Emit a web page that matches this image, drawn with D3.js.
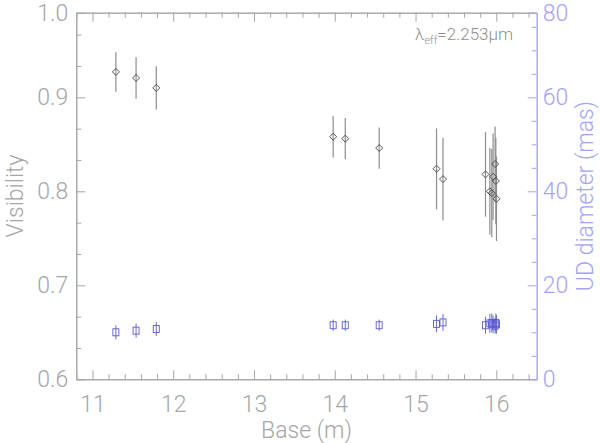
<!DOCTYPE html>
<html>
<head>
<meta charset="utf-8">
<script src="https://cdn.jsdelivr.net/npm/d3@7"></script>
<style>
  body { margin: 0; background: #fff; }
  svg text { font-family: Roboto, "Liberation Sans", sans-serif; font-weight: 300; }
</style>
</head>
<body>
<svg id="chart" width="600" height="443"></svg>
<script>
'use strict';
// Baselines (m), visibilities and uniform-disk diameters
const base = [11.29, 11.54, 11.79, 13.98, 14.13, 14.55, 15.26, 15.34,
    15.866, 15.92, 15.944, 15.96, 15.985, 15.994, 16.002];
const vis = [0.927, 0.9205, 0.910, 0.858, 0.856, 0.846, 0.824, 0.813,
    0.818, 0.800, 0.798, 0.8155, 0.829, 0.811, 0.792];
const visErr = [0.021, 0.022, 0.023, 0.022, 0.022, 0.022, 0.043, 0.044,
    0.045, 0.046, 0.047, 0.046, 0.040, 0.046, 0.045];
const ud = [10.0, 10.35, 10.7, 11.5, 11.5, 11.5, 11.8, 12.1,
    11.5, 11.9, 12.0, 11.7, 11.4, 12.0, 11.7];
const udErr = [1.5, 1.5, 1.5, 1.2, 1.2, 1.2, 1.8, 1.8,
    1.8, 2.0, 2.0, 1.9, 1.7, 2.0, 2.0];

const xTicks = [11, 12, 13, 14, 15, 16];
const visTicks = [0.6, 0.7, 0.8, 0.9, 0.99];   // top tick is labelled 1.0 in the original
const udTicks = [0, 20, 40, 60, 78];           // top tick is labelled 80 in the original

const svg = d3.select('#chart');
const margin = { top: 12.7, right: 63.3, bottom: 63.7, left: 76.3 };
const width = 600 - margin.left - margin.right;
const height = 443 - margin.top - margin.bottom;

const grey = '#a6a6a6';
const blue = '#a4a4f8';

const x = d3.scaleLinear().domain([10.8, 16.5]).range([0, width]);
const yV = d3.scaleLinear().domain([0.6, 0.99]).range([height, 0]);
const yD = d3.scaleLinear().domain([0, 78]).range([height, 0]);

const g = svg.append('g')
    .attr('transform', 'translate(' + margin.left + ',' + margin.top + ')');

const xMinor = d3.range(54, 83).map(i => i / 5).filter(v => Math.abs(v - Math.round(v)) > 1e-6);
const vMinor = d3.range(1, 12).filter(k => k % 3 !== 0).map(k => 0.6 + k / 30);
const dMinor = d3.range(5, 80, 5).filter(v => v % 20 !== 0);

function styleAxis(sel, color) {
    sel.select('.domain').attr('stroke', color);
    sel.selectAll('.tick line').attr('stroke', color);
    sel.selectAll('.tick text')
        .attr('fill', color)
        .style('font-size', '23px');
}

// bottom axis
g.append('g')
    .attr('transform', 'translate(0,' + height + ')')
    .call(d3.axisTop(x).tickValues(xTicks).tickSize(9).tickSizeOuter(0).tickFormat(d3.format('d')))
    .call(a => styleAxis(a, grey))
    .call(a => a.selectAll('.tick text').attr('y', 16).attr('dy', '0.71em'));
g.append('g')
    .attr('transform', 'translate(0,' + height + ')')
    .call(d3.axisTop(x).tickValues(xMinor).tickSize(5).tickSizeOuter(0).tickFormat(''))
    .call(a => styleAxis(a, grey));

// top axis
g.append('g')
    .call(d3.axisBottom(x).tickValues(xTicks).tickSize(9).tickSizeOuter(0).tickFormat(''))
    .call(a => styleAxis(a, grey));
g.append('g')
    .call(d3.axisBottom(x).tickValues(xMinor).tickSize(5).tickSizeOuter(0).tickFormat(''))
    .call(a => styleAxis(a, grey));

// left axis (visibility)
g.append('g')
    .call(d3.axisRight(yV).tickValues(visTicks).tickSize(9).tickSizeOuter(0).tickFormat(d3.format('.1f')))
    .call(a => styleAxis(a, grey))
    .call(a => a.selectAll('.tick text').attr('x', -8).attr('text-anchor', 'end'));
g.append('g')
    .call(d3.axisRight(yV).tickValues(vMinor).tickSize(5).tickSizeOuter(0).tickFormat(''))
    .call(a => styleAxis(a, grey));

// right axis (UD diameter)
g.append('g')
    .attr('transform', 'translate(' + width + ',0)')
    .call(d3.axisLeft(yD).tickValues(udTicks).tickSize(9).tickSizeOuter(0)
        .tickFormat(d => Math.round(d / 20) * 20))
    .call(a => styleAxis(a, blue))
    .call(a => a.selectAll('.tick text').attr('x', 6).attr('text-anchor', 'start'));
g.append('g')
    .attr('transform', 'translate(' + width + ',0)')
    .call(d3.axisLeft(yD).tickValues(dMinor).tickSize(5).tickSizeOuter(0).tickFormat(''))
    .call(a => styleAxis(a, blue));

// axis titles
svg.append('text')
    .attr('x', margin.left + width / 2)
    .attr('y', 438)
    .attr('text-anchor', 'middle')
    .attr('fill', grey)
    .style('font-size', '23px')
    .text('Base (m)');

svg.append('text')
    .attr('transform', 'translate(23,' + (margin.top + height / 2) + ') rotate(-90)')
    .attr('text-anchor', 'middle')
    .attr('fill', grey)
    .style('font-size', '23px')
    .text('Visibility');

svg.append('text')
    .attr('transform', 'translate(593,' + (margin.top + height / 2) + ') rotate(-90)')
    .attr('text-anchor', 'middle')
    .attr('fill', blue)
    .style('font-size', '23px')
    .text('UD diameter (mas)');

// wavelength label
const lam = svg.append('text')
    .attr('x', 415)
    .attr('y', 40)
    .attr('fill', '#8f8f8f')
    .style('font-size', '17px');
lam.append('tspan').text('λ');
lam.append('tspan').attr('dy', 4).style('font-size', '11px').text('eff');
lam.append('tspan').attr('dy', -4).text('=2.253μm');

const idx = d3.range(base.length);

// visibility points
g.append('g').selectAll('line')
    .data(idx)
    .join('line')
    .attr('x1', i => x(base[i]))
    .attr('x2', i => x(base[i]))
    .attr('y1', i => yV(vis[i] - visErr[i]))
    .attr('y2', i => yV(vis[i] + visErr[i]))
    .attr('stroke', '#8c8c8c')
    .attr('stroke-width', 1.2);

g.append('g').selectAll('path')
    .data(idx)
    .join('path')
    .attr('d', i => {
        const cx = x(base[i]), cy = yV(vis[i]), r = 3.5;
        return 'M' + cx + ',' + (cy - r) + 'L' + (cx + r) + ',' + cy +
            'L' + cx + ',' + (cy + r) + 'L' + (cx - r) + ',' + cy + 'Z';
    })
    .attr('fill', 'none')
    .attr('stroke', '#444')
    .attr('stroke-width', 0.9);

// UD diameter points
g.append('g').selectAll('line')
    .data(idx)
    .join('line')
    .attr('x1', i => x(base[i]))
    .attr('x2', i => x(base[i]))
    .attr('y1', i => yD(ud[i] - udErr[i]))
    .attr('y2', i => yD(ud[i] + udErr[i]))
    .attr('stroke', '#6c6cd8')
    .attr('stroke-width', 1);

g.append('g').selectAll('rect')
    .data(idx)
    .join('rect')
    .attr('x', i => x(base[i]) - 3)
    .attr('y', i => yD(ud[i]) - 3.5)
    .attr('width', 6)
    .attr('height', 7)
    .attr('fill', 'none')
    .attr('stroke', '#5a5ad0')
    .attr('stroke-width', 0.9);
</script>
</body>
</html>
